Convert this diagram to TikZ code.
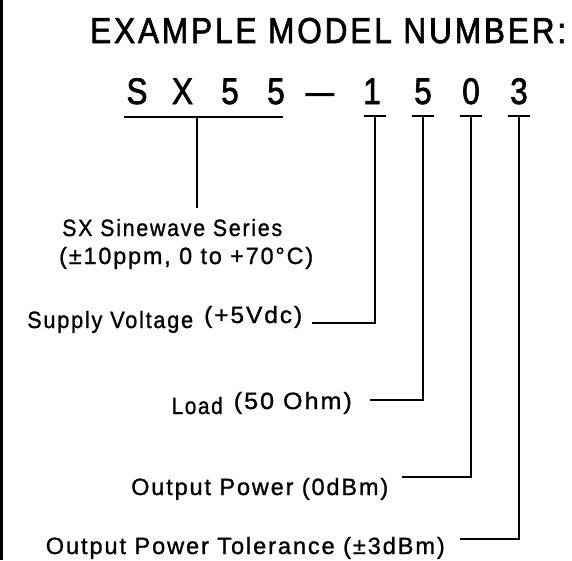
\documentclass[tikz,border=0pt]{standalone}
\usepackage{fontspec}
\setmainfont{Liberation Sans}
\newfontfamily\cadbig[FakeBold=2.0,LetterSpace=9]{Liberation Sans}
\newfontfamily\cadcode[FakeBold=2.0]{Liberation Sans}
\newfontfamily\cadsmall[FakeBold=1.1,LetterSpace=8]{Liberation Sans}
\usepackage{graphicx}
\newcommand\fitw[2]{\resizebox{#1pt}{\height}{#2}}
\begin{document}
\begin{tikzpicture}[x=1pt,y=-1pt,
  lbl/.style={font=\cadsmall\fontsize{23.5}{23.5}\selectfont, inner sep=0pt, anchor=base west},
  ttl/.style={font=\cadbig\fontsize{36}{36}\selectfont, inner sep=0pt, anchor=base west},
  big/.style={font=\cadcode\fontsize{37}{37}\selectfont, inner sep=0pt, anchor=base},
  wire/.style={line width=2pt}]
\useasboundingbox (0,0) rectangle (572,560);
\fill (0,0) rectangle (3,560);
% title
\node[ttl] (title) at (90,43) {\fitw{476}{EXAMPLE MODEL NUMBER:}};
% code characters
\node[big] (cS) at (137,104) {\scalebox{0.85}[1]{S}};
\node[big] (cX) at (182.5,104) {\scalebox{0.85}[1]{X}};
\node[big] (c5a) at (230,104) {\scalebox{0.85}[1]{5}};
\node[big] (c5b) at (276,104) {\scalebox{0.85}[1]{5}};
\node[big] (cd) at (320,104) {\fitw{28}{–}};
\node[big] (c1) at (372,104) {\scalebox{0.85}[1]{1}};
\node[big] (c2) at (423,104) {\scalebox{0.85}[1]{5}};
\node[big] (c3) at (471,104) {\scalebox{0.85}[1]{0}};
\node[big] (c4) at (519,104) {\scalebox{0.85}[1]{3}};
% labels
\node[lbl] (sx) at (62,236) {\fitw{220}{SX Sinewave Series}};
\node[lbl] (tmp) at (59,264) {\fitw{254}{(±10ppm, 0 to +70°C)}};
\node[lbl] (sv1) at (27,328) {\fitw{166}{Supply Voltage}};
\node[lbl] (sv2) at (204,323) {\fitw{98}{(+5Vdc)}};
\node[lbl] (ld1) at (171.5,414) {\fitw{51}{Load}};
\node[lbl] (ld2) at (233.6,409) {\fitw{118}{(50 Ohm)}};
\node[lbl] (op) at (131,495) {\fitw{257}{Output Power (0dBm)}};
\node[lbl] (opt) at (45.6,554) {\fitw{399}{Output Power Tolerance (±3dBm)}};
% connector points
\coordinate (uL) at (124,116.7);
\coordinate (uR) at (283,116.7);
\coordinate (u0) at (197,116.7);
\coordinate (u1) at (197,208);
\coordinate (b1) at (375,116);
\coordinate (b2) at (423,116);
\coordinate (b3) at (471,116);
\coordinate (b4) at (519,116);
\coordinate (e1) at (312,322.7);
\coordinate (e2) at (370,400);
\coordinate (e3) at (402,477);
\coordinate (e4) at (460,539);
% underline and connectors
\draw[wire] (uL) -- (uR);
\draw[wire] (u0) -- (u1);
\foreach \b in {b1,b2,b3,b4}{
  \draw[wire] ([xshift=-11pt]\b) -- ([xshift=11pt]\b);
}
\draw[wire] (b1) |- (e1);
\draw[wire] (b2) |- (e2);
\draw[wire] (b3) |- (e3);
\draw[wire] (b4) |- (e4);
\end{tikzpicture}
\end{document}
